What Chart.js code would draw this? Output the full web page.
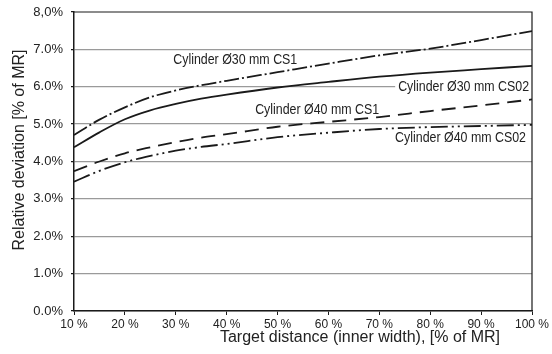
<!DOCTYPE html>
<html lang="en">
<head>
  <meta charset="UTF-8" />
  <title>Relative deviation vs target distance</title>
  <script src="https://cdn.jsdelivr.net/npm/chart.js@4.4.1/dist/chart.umd.min.js"></script>
  <style>
    html, body { margin: 0; padding: 0; background: #fff; }
    .wrap { width: 552px; height: 354px; }
  </style>
</head>
<body>
  <div class="wrap"><canvas id="devChart" width="552" height="354"></canvas></div>

  <script>
    // target distance, % of MR
    const distance = [10, 15, 20, 25, 30, 35, 40, 50, 60, 70, 80, 90, 100];

    // relative deviation, % of MR
    const cyl30cs1  = [4.71, 5.12, 5.45, 5.72, 5.90, 6.04, 6.16, 6.39, 6.62, 6.84, 7.02, 7.25, 7.49];
    const cyl30cs02 = [4.38, 4.78, 5.13, 5.37, 5.54, 5.68, 5.79, 5.98, 6.13, 6.27, 6.38, 6.47, 6.56];
    const cyl40cs1  = [3.74, 4.00, 4.22, 4.38, 4.52, 4.64, 4.73, 4.93, 5.06, 5.19, 5.35, 5.50, 5.66];
    const cyl40cs02 = [3.46, 3.75, 3.98, 4.15, 4.29, 4.39, 4.47, 4.65, 4.77, 4.87, 4.92, 4.95, 4.98];

    const seriesNames = ['Cylinder Ø30 mm CS1', 'Cylinder Ø30 mm CS02', 'Cylinder Ø40 mm CS1', 'Cylinder Ø40 mm CS02'];

    const yTicks = [0, 1, 2, 3, 4, 5, 6, 7, 8];
    const yTickText = ['0.0%', '1.0%', '2.0%', '3.0%', '4.0%', '5.0%', '6.0%', '7.0%', '8,0%'];

    const FONT = "'Liberation Sans', Arial, Helvetica, sans-serif";
    const INK = '#222';

    // where each curve name sits (data units, text left edge / middle)
    const nameAnchors = [
      { x: 29.5, y: 6.71 },
      { x: 73.7, y: 5.99 },
      { x: 45.6, y: 5.37 },
      { x: 73.1, y: 4.63 }
    ];

    const toPoints = arr => arr.map((v, i) => ({ x: distance[i], y: v }));

    function makeSet(label, values, dash) {
      return {
        label: label,
        data: toPoints(values),
        borderColor: '#1a1a1a',
        borderWidth: 1.8,
        borderDash: dash,
        pointRadius: 0,
        fill: false,
        cubicInterpolationMode: 'monotone'
      };
    }

    // frame, curve names and axis titles
    const decorations = {
      id: 'decorations',
      beforeDatasetsDraw(chart) {
        const { ctx, scales } = chart;
        const squeeze = 0.855; // narrow lettering for the curve names
        ctx.save();
        ctx.font = '14.5px ' + FONT;
        ctx.textBaseline = 'middle';
        ctx.textAlign = 'left';
        seriesNames.forEach((name, i) => {
          const px = scales.x.getPixelForValue(nameAnchors[i].x);
          const py = scales.y.getPixelForValue(nameAnchors[i].y);
          const w = ctx.measureText(name).width * squeeze;
          ctx.fillStyle = '#fff';
          ctx.fillRect(px - 3, py - 7, w + 6, 14);
          ctx.save();
          ctx.translate(px, py);
          ctx.scale(squeeze, 1);
          ctx.fillStyle = INK;
          ctx.fillText(name, 0, 0);
          ctx.restore();
        });
        ctx.restore();
      },
      afterDraw(chart) {
        const { ctx, chartArea: a } = chart;
        ctx.save();
        ctx.strokeStyle = '#1a1a1a';
        ctx.lineWidth = 1.2;
        ctx.beginPath();
        ctx.moveTo(a.left, a.top);
        ctx.lineTo(a.right, a.top);
        ctx.lineTo(a.right, a.bottom);
        ctx.stroke();

        ctx.fillStyle = INK;
        ctx.font = '16px ' + FONT;
        ctx.textAlign = 'center';
        ctx.textBaseline = 'middle';
        ctx.fillText('Target distance (inner width), [% of MR]', 360, 338);

        ctx.translate(20, 150);
        ctx.rotate(-Math.PI / 2);
        ctx.fillText('Relative deviation [% of MR]', 0, 0);
        ctx.restore();
      }
    };

    new Chart(document.getElementById('devChart'), {
      type: 'line',
      data: {
        datasets: [
          makeSet(seriesNames[0], cyl30cs1, [15, 3, 2, 3]),
          makeSet(seriesNames[1], cyl30cs02, []),
          makeSet(seriesNames[2], cyl40cs1, [14, 8]),
          makeSet(seriesNames[3], cyl40cs02, [17, 4, 2, 4, 2, 4])
        ]
      },
      options: {
        responsive: false,
        animation: false,
        layout: { padding: { top: 12, right: 20, left: 0, bottom: 0 } },
        plugins: {
          legend: { display: false },
          tooltip: { enabled: false }
        },
        scales: {
          x: {
            type: 'linear',
            min: 10,
            max: 100,
            afterFit: s => { s.height = 43; s.paddingLeft = 0; s.paddingRight = 0; },
            ticks: {
              stepSize: 10,
              color: INK,
              font: { family: FONT, size: 12 },
              padding: 2,
              maxRotation: 0,
              callback: v => v + ' %'
            },
            grid: {
              drawOnChartArea: false,
              drawTicks: true,
              tickLength: 4,
              color: '#1a1a1a'
            },
            border: { color: '#1a1a1a', width: 1.5 }
          },
          y: {
            min: 0,
            max: 8,
            afterFit: s => { s.width = 74; s.paddingTop = 0; s.paddingBottom = 0; },
            afterBuildTicks: s => { s.ticks = yTicks.map(v => ({ value: v })); },
            ticks: {
              color: INK,
              font: { family: FONT, size: 13 },
              padding: 8,
              callback: (v, i) => yTickText[i]
            },
            grid: {
              color: ctx => ctx.tick && ctx.tick.value === 8 ? 'rgba(0,0,0,0)' : '#9a9a9a',
              lineWidth: 1.3,
              tickLength: 3,
              tickColor: '#1a1a1a'
            },
            border: { color: '#1a1a1a', width: 1.5 }
          }
        }
      },
      plugins: [decorations]
    });
  </script>
</body>
</html>
